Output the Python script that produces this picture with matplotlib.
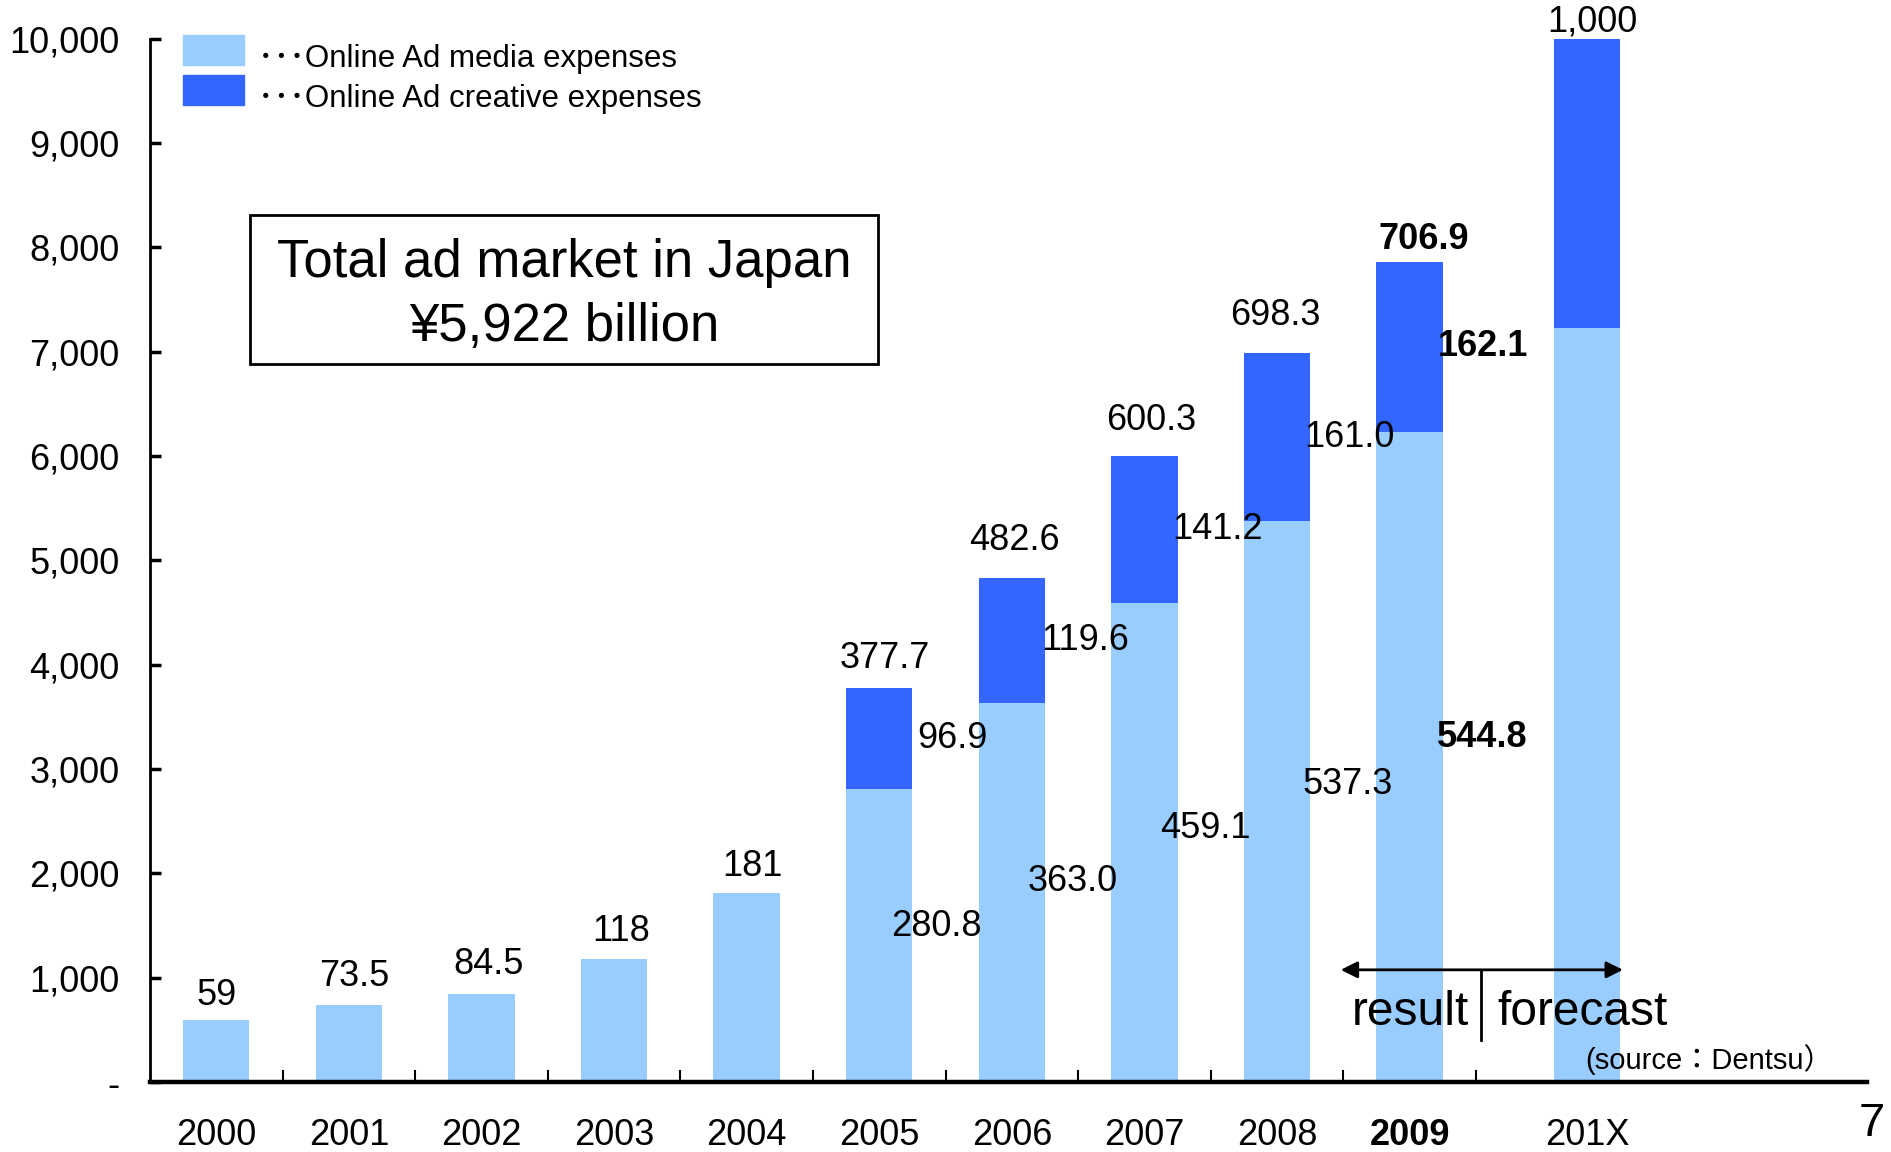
import matplotlib
matplotlib.use("Agg")
import matplotlib.pyplot as plt
from matplotlib.patches import Rectangle
import numpy as np

# ---------------- data ----------------
categories = ["2000", "2001", "2002", "2003", "2004", "2005", "2006", "2007", "2008", "2009", "201X"]
# bar heights as drawn (axis units)
media_values = [590, 735, 845, 1180, 1810, 2808, 3630, 4591, 5373, 6230, 7225]
creative_values = [0, 0, 0, 0, 0, 969, 1196, 1412, 1610, 1630, 2775]
# label texts (billion yen)
total_labels = ["59", "73.5", "84.5", "118", "181", "377.7", "482.6", "600.3", "698.3", "706.9", "1,000"]
creative_labels = ["", "", "", "", "", "96.9", "119.6", "141.2", "161.0", "162.1", ""]
media_labels = ["", "", "", "", "", "280.8", "363.0", "459.1", "537.3", "544.8", ""]
bold_flags = [False] * 9 + [True, False]
yticks = [0, 1000, 2000, 3000, 4000, 5000, 6000, 7000, 8000, 9000, 10000]
ytick_labels = ["-", "1,000", "2,000", "3,000", "4,000", "5,000", "6,000", "7,000", "8,000", "9,000", "10,000"]
legend_labels = ["･･･Online Ad media expenses", "･･･Online Ad creative expenses"]
box_lines = ["Total ad market in Japan", "¥5,922 billion"]

# ---------------- layout (label nudges) ----------------
total_dx = [0.0, 0.04, 0.05, 0.05, 0.04, 0.04, 0.02, 0.05, -0.01, 0.11, 0.04]
total_dy = [18, 21, 21, 20, 19, 21, 27, 25, 27, 16, 12]
media_dx = [0, 0, 0, 0, 0, 0.43, 0.46, 0.46, 0.53, 0.55, 0]

# ---------------- style ----------------
LIGHT = "#99CCFF"
DARK = "#3366FF"
FONT = ["Liberation Sans", "Noto Sans CJK JP", "DejaVu Sans"]
plt.rcParams["font.family"] = FONT

W, H = 1891, 1152
fig = plt.figure(figsize=(W / 100, H / 100), dpi=100)
ax = fig.add_axes([150 / W, 1 - 1082 / H, (1867 - 150) / W, (1082 - 38.6) / H])

x = np.array(list(range(10)) + [10.34])
bw = 0.5
ax.bar(x, media_values, width=bw, color=LIGHT, zorder=2)
ax.bar(x, creative_values, width=bw, bottom=media_values, color=DARK, zorder=2)

ax.set_xlim(-0.5, 12.45)
ax.set_ylim(0, 10000)

# spines
for s in ["top", "right"]:
    ax.spines[s].set_visible(False)
ax.spines["left"].set_linewidth(2)
ax.spines["bottom"].set_linewidth(3.2)

ax.set_yticks(yticks)
ax.set_yticklabels(ytick_labels, fontsize=26)
ax.tick_params(axis="y", direction="in", length=8, width=2.5, pad=22)

ax.set_xticks(x)
ax.set_xticklabels(categories, fontsize=26)
for lbl, b in zip(ax.get_xticklabels(), bold_flags):
    if b:
        lbl.set_fontweight("bold")
ax.tick_params(axis="x", which="major", length=0, pad=26)
ax.set_xticks(np.arange(0.5, 10, 1.0), minor=True)
ax.tick_params(axis="x", which="minor", direction="in", length=9, width=1.5)

# labels
totals = [m + c for m, c in zip(media_values, creative_values)]
for xi, t, lab, b, dx, dy in zip(x, totals, total_labels, bold_flags, total_dx, total_dy):
    ax.annotate(lab, (xi + dx, t), xytext=(0, dy), textcoords="offset points",
                ha="center", va="center", fontsize=26,
                fontweight="bold" if b else "normal", annotation_clip=False)
for xi, m, c, lab, b in zip(x, media_values, creative_values, creative_labels, bold_flags):
    if lab:
        ax.text(xi + 0.55, m + c / 2, lab, ha="center", va="center", fontsize=26,
                fontweight="bold" if b else "normal", zorder=3)
for xi, m, lab, b, dx in zip(x, media_values, media_labels, bold_flags, media_dx):
    if lab:
        ax.text(xi + dx, m * 0.53, lab, ha="center", va="center", fontsize=26,
                fontweight="bold" if b else "normal", zorder=3)

# result / forecast annotation
ax.annotate("", xy=(8.46, 1075), xytext=(10.63, 1075),
            arrowprops=dict(arrowstyle="<|-|>", color="black", lw=2, mutation_scale=25), zorder=4)
ax.plot([9.54, 9.54], [1075, 405], color="black", lw=2, zorder=4)
ax.text(9.45, 670, "result", ha="right", va="center", fontsize=34.5, zorder=4)
ax.text(9.66, 670, "forecast", ha="left", va="center", fontsize=34.5, zorder=4)
ax.text(11.26, 220, "(source：Dentsu）", ha="center", va="center", fontsize=21, zorder=4)

# legend (figure coords)
for i, (col, lab) in enumerate(zip([LIGHT, DARK], legend_labels)):
    y0 = 35 + i * 40
    fig.patches.append(Rectangle((183 / W, 1 - (y0 + 30) / H), 61 / W, 30 / H,
                                 transform=fig.transFigure, color=col))
    fig.text(258 / W, 1 - (y0 + 24) / H, lab, ha="left", va="center", fontsize=22.5)

# text box
fig.patches.append(Rectangle((250 / W, 1 - 364 / H), 628 / W, 149 / H,
                             transform=fig.transFigure, fill=False, edgecolor="black", lw=2))
fig.text(564 / W, 1 - 263 / H, box_lines[0], ha="center", va="center", fontsize=38)
fig.text(564 / W, 1 - 327 / H, box_lines[1], ha="center", va="center", fontsize=38)

# page number
fig.text(1872 / W, 1 - 1124 / H, "7", ha="center", va="center", fontsize=34)

fig.savefig("out.png", dpi=100)
